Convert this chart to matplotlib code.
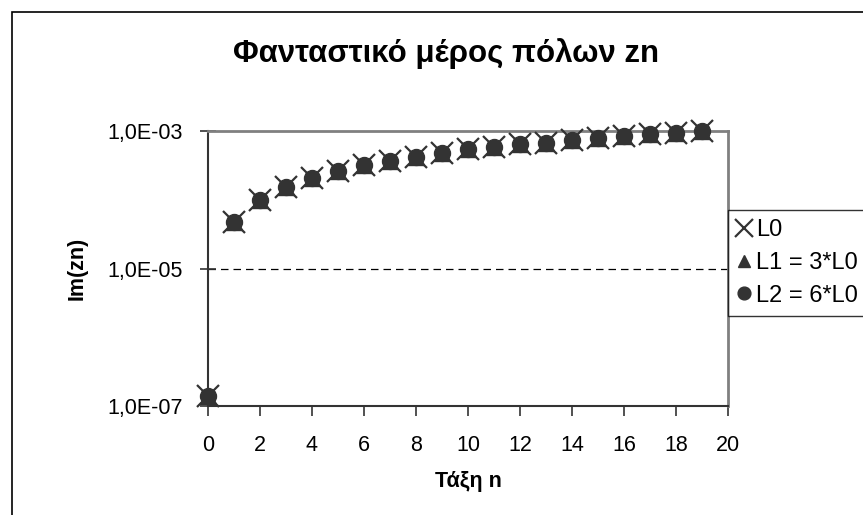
import matplotlib
matplotlib.use("Agg")
import matplotlib.pyplot as plt
from matplotlib.patches import Rectangle
from matplotlib.ticker import FixedLocator, FuncFormatter, NullLocator

plt.rcParams['font.family'] = ['Liberation Sans', 'DejaVu Sans']

n = list(range(20))
im_l0 = [1.4e-7, 4.8e-5, 1.0e-4, 1.55e-4, 2.05e-4, 2.6e-4, 3.2e-4, 3.65e-4, 4.2e-4, 4.8e-4,
         5.4e-4, 5.9e-4, 6.5e-4, 6.8e-4, 7.4e-4, 8.0e-4, 8.6e-4, 8.95e-4, 9.5e-4, 1.0e-3]
im_l1 = [1.4e-7, 4.8e-5, 1.0e-4, 1.55e-4, 2.05e-4, 2.6e-4, 3.2e-4, 3.65e-4, 4.2e-4, 4.8e-4,
         5.4e-4, 5.9e-4, 6.5e-4, 6.8e-4, 7.4e-4, 8.0e-4, 8.6e-4, 8.95e-4, 9.5e-4, 1.0e-3]
im_l2 = [1.4e-7, 4.8e-5, 1.0e-4, 1.55e-4, 2.05e-4, 2.6e-4, 3.2e-4, 3.65e-4, 4.2e-4, 4.8e-4,
         5.4e-4, 5.9e-4, 6.5e-4, 6.8e-4, 7.4e-4, 8.0e-4, 8.6e-4, 8.95e-4, 9.5e-4, 1.0e-3]
labels = ["L0", "L1 = 3*L0", "L2 = 6*L0"]
title = "Φανταστικό μέρος πόλων zn"

fig = plt.figure(figsize=(8.63, 5.15), dpi=100)
ax = fig.add_axes([208/863, 1 - 406/515, 520/863, 275/515])

dark = "#333333"
ax.plot(n, im_l2, ls="none", marker="o", ms=11.5, color=dark, label=labels[2], zorder=3, clip_on=False)
ax.plot(n, im_l1, ls="none", marker="^", ms=11, color=dark, label=labels[1], zorder=3, clip_on=False)
ax.plot(n, im_l0, ls="none", marker="x", ms=15.5, mew=1.6, color=dark, label=labels[0], zorder=4, clip_on=False)

ax.set_yscale("log")
ax.set_ylim(1e-7, 1e-3)
ax.set_xlim(0, 20)
ax.yaxis.set_major_locator(FixedLocator([1e-7, 1e-5, 1e-3]))
ax.yaxis.set_minor_locator(NullLocator())
ax.yaxis.set_major_formatter(FuncFormatter(lambda v, p: ("%.1E" % v).replace(".", ",")))
ax.set_xticks(range(0, 21, 2))

ax.axhline(1e-5, color="black", lw=0.9, ls=(0, (6, 4)), zorder=1)

for s in ["top", "right"]:
    ax.spines[s].set_color("#808080")
    ax.spines[s].set_linewidth(2)
for s in ["left", "bottom"]:
    ax.spines[s].set_color("#333333")
    ax.spines[s].set_linewidth(1.5)

ax.tick_params(axis="x", direction="out", length=7, width=1.2, color="#333333", labelsize=15.5, pad=14)
ax.tick_params(axis="y", direction="inout", length=12, width=1.2, color="#333333", labelsize=15.5, pad=12)

ax.set_title(title, fontsize=22.5, fontweight="bold", x=(446 - 208) / 520, y=1.0, pad=50)
ax.set_ylabel("Im(zn)", fontsize=15.5, fontweight="bold")
ax.yaxis.set_label_coords((88 - 208) / 520, 0.5)
ax.set_xlabel("Τάξη n", fontsize=15.5, fontweight="bold", labelpad=11)

handles, labs = ax.get_legend_handles_labels()
leg = ax.legend(handles[::-1], labs[::-1], loc="upper left", bbox_to_anchor=(1.0, (406 - 210) / 275),
                borderaxespad=0, fontsize=17, markerscale=0.8, handlelength=0.55, handletextpad=0.25,
                labelspacing=0.45, borderpad=0.4, fancybox=False, frameon=True)
leg.get_frame().set_edgecolor("black")
leg.get_frame().set_linewidth(1.0)

fig.patches.append(Rectangle((11.5 / 863, -0.1), 1.2, 1 - 12 / 515 + 0.1, transform=fig.transFigure,
                             fill=False, ec="black", lw=1.2))

fig.savefig("out.png", dpi=100)
